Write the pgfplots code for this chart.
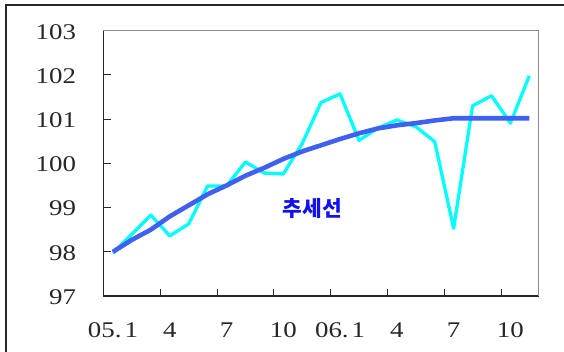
\documentclass[border=0pt]{standalone}
\usepackage{fontspec}
\usepackage{pgfplots}
\pgfplotsset{compat=1.18}
\newfontfamily\tickfont[FakeStretch=1.2]{Liberation Serif}
\newfontfamily\krfont{Noto Sans CJK KR}
\definecolor{cyanline}{RGB}{0,255,255}
\definecolor{trendblue}{RGB}{64,96,240}
\definecolor{labelblue}{RGB}{16,16,240}
\definecolor{frame}{RGB}{40,40,40}
\definecolor{lightframe}{RGB}{140,140,140}
\begin{document}
\begin{tikzpicture}[x=1bp,y=1bp]
\useasboundingbox (-103.5,-55) rectangle (460.5,296);
\draw[frame,line width=1.3bp] (-97.5,-70) -- (-97.5,291) -- (480,291);
\begin{axis}[
  at={(0,0)}, anchor=south west,
  scale only axis, width=435.3bp, height=265.3bp,
  xmin=-0.5, xmax=22.5, ymin=97, ymax=103,
  axis x line*=bottom, axis y line*=left,
  axis line style={frame, line width=1.3bp, -},
  tick align=inside,
  major tick length=7bp,
  tick style={frame, line width=0.9bp},
  xtick={2.5,5.5,8.5,11.5,14.5,17.5,20.5},
  xticklabels={},
  extra x ticks={0,3,6,9,12,15,18,21},
  extra x tick labels={05.\hspace{3pt}1,4,7,10,06.\hspace{3pt}1,4,7,10},
  extra x tick style={major tick length=0pt},
  ytick={97,98,99,100,101,102,103},
  /pgf/number format/assume math mode=true,
  ticklabel style={font=\tickfont\fontsize{22.5}{24}\selectfont, text=black!85},
  xticklabel style={yshift=-23bp},
  yticklabel style={xshift=-24bp, yshift=-1bp},
  clip=false,
]
\addplot[cyanline, line width=3.3bp, line join=round] coordinates {
(0,97.97) (1,98.40) (2,98.83) (3,98.36) (4,98.63) (5,99.49) (6,99.49) (7,100.03)
(8,99.78) (9,99.76) (10,100.45) (11,101.38) (12,101.57) (13,100.52) (14,100.80)
(15,100.98) (16,100.83) (17,100.49) (18,98.53) (19,101.30) (20,101.53) (21,100.91) (22,101.98)
};
\addplot[trendblue, line width=4.6bp, line join=round] coordinates {
(0,98.00) (1,98.27) (2,98.50) (3,98.80) (4,99.05) (5,99.30) (6,99.50) (7,99.72)
(8,99.90) (9,100.10) (10,100.27) (11,100.41) (12,100.55) (13,100.68) (14,100.79)
(15,100.86) (16,100.91) (17,100.97) (18,101.02) (19,101.02) (20,101.02) (21,101.02) (22,101.02)
};
\draw[lightframe, line width=1.3bp] (rel axis cs:0,1) -- (rel axis cs:1,1) -- (rel axis cs:1,0);
\node[font=\krfont\bfseries\fontsize{21.5}{23}\selectfont, text=labelblue] at (axis cs:10.54,98.98) {추세선};
\end{axis}
\end{tikzpicture}
\end{document}
